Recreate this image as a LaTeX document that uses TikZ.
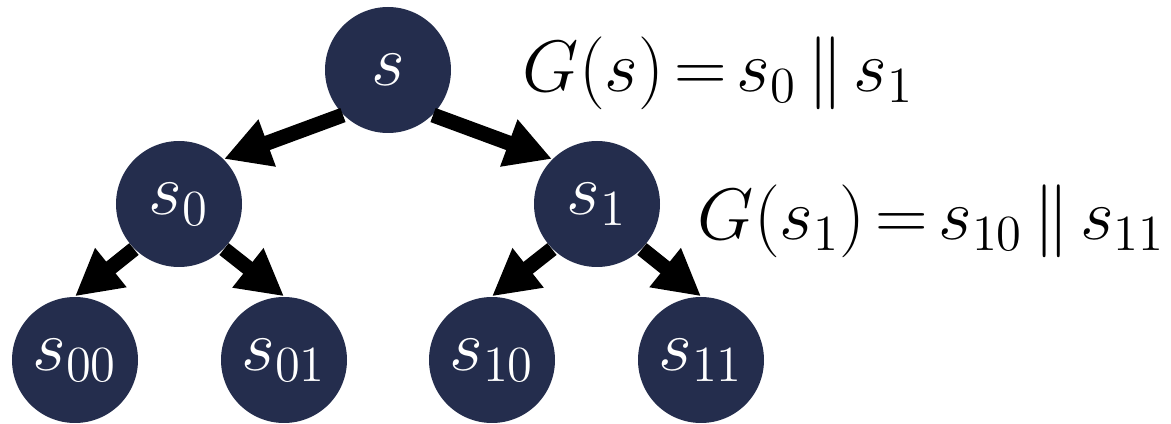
\documentclass[tikz,border=0pt]{standalone}
\usepackage{xcolor}
\usepackage{tikz}
\usetikzlibrary{arrows.meta}
\definecolor{navy}{RGB}{36,45,77}
\tikzset{
  tree node/.style={
    circle,
    fill=navy,
    text=white,
    minimum size=12.6mm,
    inner sep=0pt,
    font=\huge,
  },
  tree arrow/.style={-{Triangle[length=4.6mm,width=4.7mm]}, line width=1.5mm},
  eq label/.style={anchor=base west, inner sep=0pt, font={\huge\thickmuskip=2.5mu\relax}},
}
\begin{document}
\begin{tikzpicture}
  \useasboundingbox (0,0) rectangle (11.71,4.24);

  \node[tree node] (s) at (3.88,3.54) {$s$};

  \node[tree node] (s0) at (1.79,2.20) {$s_0$};
  \node[tree node] (s1) at (5.97,2.20) {$s_1$};

  \node[tree node] (s00) at (0.75,0.64) {$s_{00}$};
  \node[tree node] (s01) at (2.84,0.64) {$s_{01}$};
  \node[tree node] (s10) at (4.92,0.64) {$s_{10}$};
  \node[tree node] (s11) at (7.01,0.64) {$s_{11}$};

  % expansion labels
  \node[eq label] (g) at (5.22,3.32) {$G(s) = s_0 \parallel s_1$};
  \node[eq label] (g1) at (6.97,1.84) {$G(s_1) = s_{10} \parallel s_{11}$};

  \draw[tree arrow] (s.225) -- (s0.45);
  \draw[tree arrow] (s.-45) -- (s1.135);

  \draw[tree arrow] (s0.225) -- (s00.90);
  \draw[tree arrow] (s0.-45) -- (s01.90);

  \draw[tree arrow] (s1.225) -- (s10.90);
  \draw[tree arrow] (s1.-45) -- (s11.90);
\end{tikzpicture}
\end{document}
